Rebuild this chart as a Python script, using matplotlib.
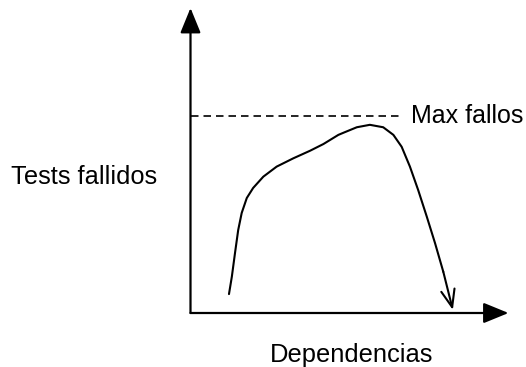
import matplotlib
matplotlib.use("Agg")
import matplotlib.pyplot as plt

# schematic data (x: dependencias, y: tests fallidos), arbitrary units 0..10
curve_x = [1.21, 1.30, 1.40, 1.50, 1.61, 1.77, 1.97, 2.29, 2.71, 3.23, 3.76, 4.18,
           4.65, 4.81, 5.23, 5.64, 6.06, 6.38, 6.64, 6.90, 7.16, 7.43, 7.69, 7.95, 8.25]
curve_y = [0.62, 1.19, 1.97, 2.72, 3.28, 3.77, 4.10, 4.47, 4.80, 5.07, 5.32, 5.54,
           5.84, 5.91, 6.09, 6.17, 6.09, 5.84, 5.45, 4.80, 4.03, 3.16, 2.29, 1.35, 0.10]
max_fallos = 6.46
max_line_end = 6.60
x_label = "Dependencias"
y_label = "Tests fallidos"
max_label = "Max fallos"

W, H = 526, 367
fig = plt.figure(figsize=(W / 100, H / 100), dpi=100)
ox, oy = 190.5, 313
ax = fig.add_axes([ox / W, (H - oy) / H, 318 / W, 305 / H])
ax.set_xlim(0, 10)
ax.set_ylim(0, 10)
ax.axis("off")

lw = 1.6
for tip in [(10, 0), (0, 10)]:
    ax.annotate("", xy=tip, xytext=(0, 0),
                arrowprops=dict(arrowstyle="-|>,head_length=1.1,head_width=0.45",
                                color="black", lw=lw, shrinkA=0, shrinkB=0,
                                mutation_scale=14))

# dashed max line
ax.plot([0, max_line_end], [max_fallos, max_fallos], color="black",
        lw=1.2, ls=(0, (4.5, 3)), solid_capstyle="butt")
ax.text(6.93, max_fallos, max_label, ha="left", va="center",
        fontsize=18, family="Liberation Sans")

# curve
ax.plot(curve_x[:-1], curve_y[:-1], color="black", lw=1.5,
        solid_joinstyle="round", solid_capstyle="round")
ax.annotate("", xy=(curve_x[-1], curve_y[-1]), xytext=(curve_x[-2], curve_y[-2]),
            arrowprops=dict(arrowstyle="->,head_length=0.9,head_width=0.35",
                            color="black", lw=1.5, shrinkA=0, shrinkB=0,
                            mutation_scale=14))

ax.text(5.05, -1.38, x_label, ha="center", va="center", fontsize=18.4,
        family="Liberation Sans", clip_on=False)
ax.text(-1.05, 4.45, y_label, ha="right", va="center", fontsize=18.3,
        family="Liberation Sans", clip_on=False)

fig.savefig("out.png", dpi=100)
